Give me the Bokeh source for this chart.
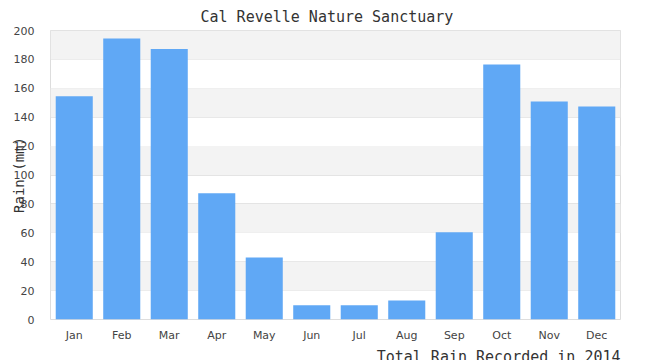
from bokeh.plotting import figure
from bokeh.models import ColumnDataSource, Title, BoxAnnotation, FixedTicker
from bokeh.embed import file_html
from bokeh.resources import INLINE

months = ["Jan", "Feb", "Mar", "Apr", "May", "Jun", "Jul", "Aug", "Sep", "Oct", "Nov", "Dec"]
rain = [154.5, 194.5, 187.2, 87.3, 42.9, 9.8, 9.8, 13.1, 60.3, 176.5, 150.9, 147.4]
y_ticks = [0, 20, 40, 60, 80, 100, 120, 140, 160, 180, 200]

src = ColumnDataSource(dict(month=months, rain=rain))

p = figure(x_range=months, y_range=(0, 200), frame_width=570, frame_height=289,
           output_backend="svg", toolbar_location=None,
           min_border_left=50, min_border_right=22, min_border_top=30, min_border_bottom=0)

p.title.text = "Cal Revelle Nature Sanctuary"
p.title.align = "left"
p.title.text_font = "DejaVu Sans Mono"
p.title.text_font_size = "15px"
p.title.text_font_style = "normal"
p.title.text_color = "#333333"
p.title.offset = 150
p.title.standoff = 10

for lo in range(20, 200, 40):
    p.add_layout(BoxAnnotation(bottom=lo, top=lo + 20, fill_color="#f3f3f3",
                               fill_alpha=1, line_alpha=0, level="underlay"))

p.vbar(x="month", top="rain", width=0.78, source=src, fill_color="#60a8f5", line_color=None)

p.outline_line_color = "#dddddd"
p.xgrid.grid_line_color = None
p.ygrid.grid_line_color = "#e4e4e4"
p.yaxis.ticker = FixedTicker(ticks=y_ticks)

for ax in (p.xaxis[0], p.yaxis[0]):
    ax.axis_line_color = None
    ax.major_tick_line_color = None
    ax.minor_tick_line_color = None
    ax.major_label_text_font = "DejaVu Sans"
    ax.major_label_text_font_size = "11px"
    ax.major_label_text_color = "#444444"

p.yaxis.major_label_standoff = 10
p.xaxis.major_label_standoff = 3
p.yaxis.axis_label = "Rain (mm)"
p.yaxis.axis_label_text_font = "DejaVu Sans Mono"
p.yaxis.axis_label_text_font_size = "14px"
p.yaxis.axis_label_text_font_style = "normal"
p.yaxis.axis_label_text_color = "#333333"
p.yaxis.axis_label_standoff = -16

p.add_layout(Title(text="Total Rain Recorded in 2014", align="right",
                   text_font="DejaVu Sans Mono", text_font_size="15px",
                   text_font_style="normal", text_color="#333333", standoff=3), "below")

p.background_fill_color = "white"
p.border_fill_color = "white"

open("out.html", "w").write(file_html(p, INLINE))
